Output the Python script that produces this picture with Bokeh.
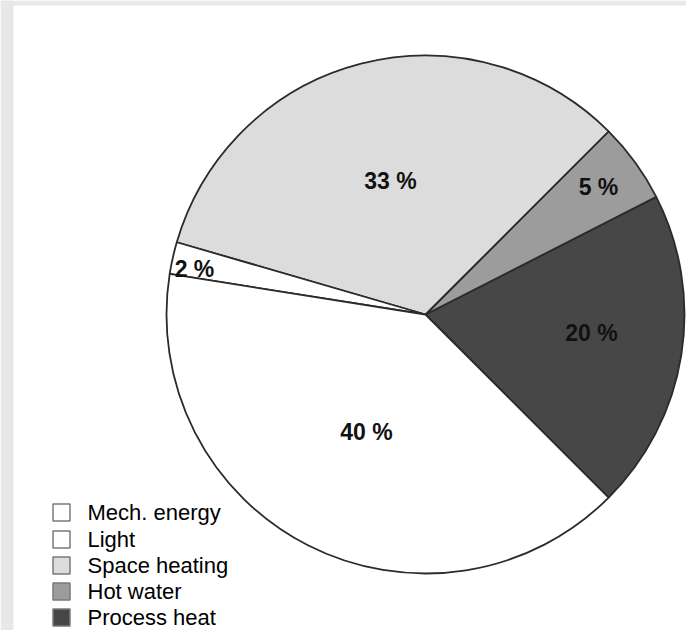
import numpy as np
from bokeh.plotting import figure
from bokeh.models import Range1d
from bokeh.core.properties import value
from bokeh.embed import file_html
from bokeh.resources import INLINE

# ---- data ----
categories = ["Mech. energy", "Light", "Space heating", "Hot water", "Process heat"]
shares = [40, 2, 33, 5, 20]
colors = ["#ffffff", "#ffffff", "#dcdcdc", "#9c9c9c", "#474747"]
pct_labels = ["40 %", "2 %", "33 %", "5 %", "20 %"]

# drawing order counter-clockwise starting with Process heat
order = [4, 3, 2, 1, 0]
start_deg = -45.0

W, H = 686, 630
p = figure(width=W, height=H, output_backend="svg", toolbar_location=None,
           x_range=Range1d(0, W), y_range=Range1d(0, H),
           min_border=0, outline_line_color=None)
p.axis.visible = False
p.grid.visible = False
p.background_fill_color = "white"
p.border_fill_color = "white"

def py(page_y):
    return H - page_y

# gray scan border (top and left)
p.quad(left=0, right=13, bottom=0, top=H, fill_color="#e8e8e8", line_color=None)
p.quad(left=0, right=W, bottom=py(5), top=H, fill_color="#e8e8e8", line_color=None)

cx, cy, r = 425, py(314), 259
angles = np.array(shares) / 100.0 * 2 * np.pi
cur = np.deg2rad(start_deg)
starts, ends, fills = [], [], []
for i in order:
    starts.append(cur)
    ends.append(cur + angles[i])
    fills.append(colors[i])
    cur += angles[i]
p.wedge(x=cx, y=cy, radius=r, start_angle=starts, end_angle=ends,
        fill_color=fills, line_color="#2b2b2b", line_width=1.8)

# percentage labels (page positions)
lab_x = [366, 194, 390, 598, 591]
lab_y = [py(431), py(268), py(180), py(186), py(332)]
p.text(x=lab_x, y=lab_y, text=pct_labels, text_align="center", text_baseline="middle",
       text_font=value("Liberation Sans"), text_font_size="23px", text_font_style="bold",
       text_color="#111111")

# legend
leg_y = [py(p_) for p_ in [512, 539, 565, 591, 617]]
p.rect(x=[61] * 5, y=leg_y, width=17, height=17, fill_color=colors,
       line_color="#7a7a7a", line_width=1.5)
p.text(x=[87] * 5, y=leg_y, text=categories, text_align="left", text_baseline="middle",
       text_font=value("Liberation Sans"), text_font_size="22px", text_color="#000000")

open("out.html", "w").write(file_html(p, INLINE))
